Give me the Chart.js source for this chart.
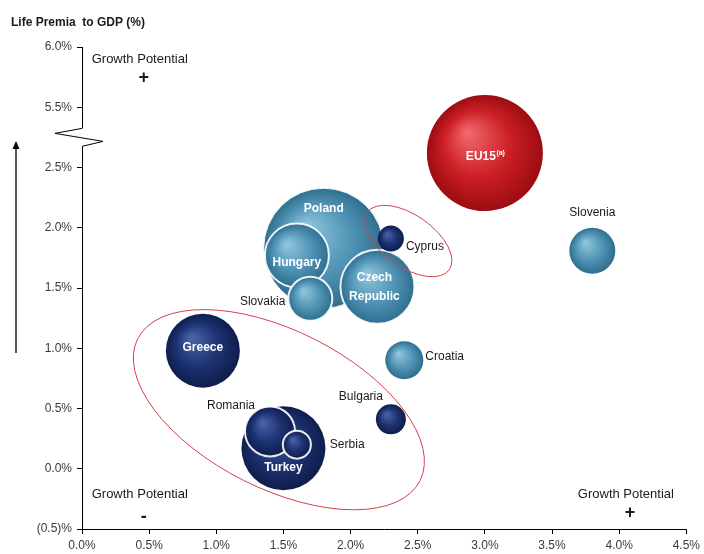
<!DOCTYPE html>
<html>
<head>
<meta charset="utf-8">
<script src="https://cdn.jsdelivr.net/npm/chart.js@4.4.1/dist/chart.umd.min.js"></script>
<style>
  html, body { margin: 0; padding: 0; background: #fff; }
  #wrap { position: relative; width: 704px; height: 554px; }
</style>
</head>
<body>
<div id="wrap"><canvas id="bubbles"></canvas></div>
<script>
// data (drawn big first so small bubbles sit on top)
const countries = ['Poland', 'EU15', 'Turkey', 'Czech Republic', 'Greece', 'Hungary', 'Romania',
                   'Slovenia', 'Slovakia', 'Croatia', 'Bulgaria', 'Serbia', 'Cyprus'];
const growthX  = [1.8, 3.0, 1.5, 2.2, 0.9, 1.6, 1.4, 3.8, 1.7, 2.4, 2.3, 1.6, 2.3];
const premiaY  = [1.83, 2.62, 0.17, 1.51, 0.98, 1.77, 0.31, 1.81, 1.41, 0.9, 0.41, 0.2, 1.91];
const bubbleR  = [60, 58, 42, 37, 37, 32, 25, 23, 22, 19, 15, 14, 13];
const groups   = ['light', 'red', 'dark', 'light', 'dark', 'light', 'dark',
                  'light', 'light', 'light', 'dark', 'dark', 'dark'];

const xTicks = [0, 0.5, 1, 1.5, 2, 2.5, 3, 3.5, 4, 4.5];
const xTickLabels = ['0.0%', '0.5%', '1.0%', '1.5%', '2.0%', '2.5%', '3.0%', '3.5%', '4.0%', '4.5%'];
const yTicks = [-0.5, 0, 0.5, 1, 1.5, 2, 2.5, 5.5, 6.0];
const yTickLabels = ['(0.5)%', '0.0%', '0.5%', '1.0%', '1.5%', '2.0%', '2.5%', '5.5%', '6.0%'];

// axis is broken: 5.5% sits where 3.0% would be
const BREAK_AT = 3.0, BREAK_GAP = 2.5;
const toAxis = v => (v > BREAK_AT ? v - BREAK_GAP : v);

const palette = {
    light: ['#8ec4db', '#5295b6', '#2f6e8f'],
    dark:  ['#4862a6', '#1e3372', '#0f1d4d'],
    red:   ['#f0646a', '#cc1f26', '#9c0c12']
};
const outlined = ['Poland', 'Hungary', 'Slovakia', 'Czech Republic', 'Romania', 'Serbia'];

// label placement relative to bubble centre (px)
const labelStyle = {
    'Poland':         { lines: ['Poland'], dx: 0, dy: -40, inside: true },
    'EU15':           { lines: ['EU15'], dx: -4, dy: 4, inside: true, sup: '(a)' },
    'Turkey':         { lines: ['Turkey'], dx: 0, dy: 19, inside: true },
    'Czech Republic': { lines: ['Czech', 'Republic'], dx: -3, dy: 0, inside: true },
    'Greece':         { lines: ['Greece'], dx: 0, dy: -3, inside: true },
    'Hungary':        { lines: ['Hungary'], dx: 0, dy: 7, inside: true },
    'Romania':        { lines: ['Romania'], dx: -15, dy: -26, align: 'right' },
    'Slovenia':       { lines: ['Slovenia'], dx: 0, dy: -38 },
    'Slovakia':       { lines: ['Slovakia'], dx: -25, dy: 3, align: 'right' },
    'Croatia':        { lines: ['Croatia'], dx: 21, dy: -4, align: 'left' },
    'Bulgaria':       { lines: ['Bulgaria'], dx: -30, dy: -23 },
    'Serbia':         { lines: ['Serbia'], dx: 33, dy: 0, align: 'left' },
    'Cyprus':         { lines: ['Cyprus'], dx: 15, dy: 8, align: 'left' }
};

// red grouping ellipses (centre in data units, radii px, tilt deg)
const rings = [
    { x: 1.466, y: 0.49, a: 158, b: 79, tilt: 26.7 },
    { x: 2.43, y: 1.89, a: 50, b: 26, tilt: 35 }
];

const notes = [
    { text: 'Growth Potential', x: 0.43, y: 5.9, font: '13px "Liberation Sans", Arial' },
    { text: '+', x: 0.46, y: 5.74, font: 'bold 18px "Liberation Sans", Arial' },
    { text: 'Growth Potential', x: 0.43, y: -0.21, font: '13px "Liberation Sans", Arial' },
    { text: '-', x: 0.46, y: -0.4, font: 'bold 18px "Liberation Sans", Arial' },
    { text: 'Growth Potential', x: 4.05, y: -0.21, font: '13px "Liberation Sans", Arial' },
    { text: '+', x: 4.08, y: -0.37, font: 'bold 18px "Liberation Sans", Arial' }
];

const FONT = '"Liberation Sans", Arial, sans-serif';

function bubbleFill(ctx) {
    const chart = ctx.chart;
    const raw = ctx.raw;
    const cols = palette[groups[ctx.dataIndex]] || palette.light;
    if (!raw || !chart.chartArea) return cols[1];
    const x = chart.scales.x.getPixelForValue(raw.x);
    const y = chart.scales.y.getPixelForValue(raw.y);
    const r = raw.r;
    const g = chart.ctx.createRadialGradient(x - r * 0.3, y - r * 0.35, r * 0.05, x, y, r);
    g.addColorStop(0, cols[0]);
    g.addColorStop(0.55, cols[1]);
    g.addColorStop(1, cols[2]);
    return g;
}

const decorations = {
    id: 'decorations',
    afterDatasetsDraw(chart) {
        const c = chart.ctx;
        const xs = chart.scales.x, ys = chart.scales.y;
        c.save();

        // ellipses
        c.strokeStyle = '#d2404e';
        c.lineWidth = 1;
        rings.forEach(e => {
            c.beginPath();
            c.ellipse(xs.getPixelForValue(e.x), ys.getPixelForValue(e.y), e.a, e.b,
                      e.tilt * Math.PI / 180, 0, Math.PI * 2);
            c.stroke();
        });

        // bubble labels
        const meta = chart.getDatasetMeta(0);
        meta.data.forEach((pt, i) => {
            const s = labelStyle[countries[i]];
            if (!s) return;
            c.font = (s.inside ? 'bold 12px ' : '12px ') + FONT;
            c.fillStyle = s.inside ? '#ffffff' : '#1a1a1a';
            c.textAlign = s.align || 'center';
            c.textBaseline = 'middle';
            const lh = 19;
            const y0 = pt.y + s.dy - (s.lines.length - 1) * lh / 2;
            s.lines.forEach((ln, k) => c.fillText(ln, pt.x + s.dx, y0 + k * lh));
            if (s.sup) {
                const w = c.measureText(s.lines[0]).width;
                c.font = 'bold 7px ' + FONT;
                c.textAlign = 'left';
                c.fillText(s.sup, pt.x + s.dx + w / 2 + 0.5, y0 - 4);
            }
        });
        c.restore();
    },
    afterDraw(chart) {
        const c = chart.ctx;
        const xs = chart.scales.x, ys = chart.scales.y;
        const ax = chart.chartArea.left;
        c.save();

        // axis break zigzag
        const yb = ys.getPixelForValue(2.75);
        c.fillStyle = '#fff';
        c.fillRect(ax - 2, yb - 9, 4, 18);
        c.strokeStyle = '#000';
        c.lineWidth = 1;
        c.beginPath();
        c.moveTo(ax, yb - 9);
        c.lineTo(ax - 27, yb - 4);
        c.lineTo(ax + 21, yb + 4);
        c.lineTo(ax, yb + 9);
        c.stroke();

        // upward arrow on the left
        const tip = ys.getPixelForValue(2.72);
        const tail = ys.getPixelForValue(0.96);
        c.beginPath();
        c.moveTo(16, tail);
        c.lineTo(16, tip + 6);
        c.lineWidth = 1.3;
        c.stroke();
        c.fillStyle = '#000';
        c.beginPath();
        c.moveTo(16, tip);
        c.lineTo(12.5, tip + 8);
        c.lineTo(19.5, tip + 8);
        c.closePath();
        c.fill();

        // growth potential notes
        c.fillStyle = '#1a1a1a';
        c.textAlign = 'center';
        c.textBaseline = 'middle';
        notes.forEach(n => {
            c.font = n.font;
            c.fillText(n.text, xs.getPixelForValue(n.x), ys.getPixelForValue(toAxis(n.y)));
        });

        // y axis title
        c.font = 'bold 12px ' + FONT;
        c.textAlign = 'left';
        c.fillText('Life Premia  to GDP (%)', 11, 23);
        c.restore();
    }
};

const chart = new Chart(document.getElementById('bubbles'), {
    type: 'bubble',
    data: {
        datasets: [{
            data: countries.map((n, i) => ({ x: growthX[i], y: toAxis(premiaY[i]), r: bubbleR[i] })),
            backgroundColor: bubbleFill,
            borderColor: countries.map(n => outlined.includes(n) ? 'rgba(255,255,255,0.9)' : 'rgba(0,0,0,0)'),
            borderWidth: countries.map(n => n === 'Poland' ? 1 : 2),
            hoverRadius: 0
        }]
    },
    options: {
        responsive: true,
        maintainAspectRatio: false,
        animation: false,
        events: [],
        layout: { autoPadding: false, padding: { top: 47, right: 16, left: 0, bottom: 0 } },
        plugins: { legend: { display: false }, tooltip: { enabled: false } },
        scales: {
            x: {
                type: 'linear',
                min: 0, max: 4.5,
                afterBuildTicks: s => { s.ticks = xTicks.map(v => ({ value: v })); },
                afterFit: s => { s.height = 25; },
                ticks: {
                    callback: (v, i) => xTickLabels[i],
                    color: '#3a3a3a',
                    font: { family: FONT, size: 12 },
                    padding: 4,
                    maxRotation: 0,
                    autoSkip: false
                },
                grid: { drawOnChartArea: false, drawTicks: true, tickLength: 5, color: '#000' },
                border: { color: '#000', width: 1 }
            },
            y: {
                type: 'linear',
                min: -0.5, max: 3.5,
                afterBuildTicks: s => { s.ticks = yTicks.map(v => ({ value: toAxis(v) })); },
                afterFit: s => { s.width = 82; },
                ticks: {
                    callback: (v, i) => yTickLabels[i],
                    color: '#3a3a3a',
                    font: { family: FONT, size: 12 },
                    padding: 5,
                    autoSkip: false
                },
                grid: { drawOnChartArea: false, drawTicks: true, tickLength: 5, color: '#000' },
                border: { color: '#000', width: 1 }
            }
        }
    },
    plugins: [decorations]
});
</script>
</body>
</html>
